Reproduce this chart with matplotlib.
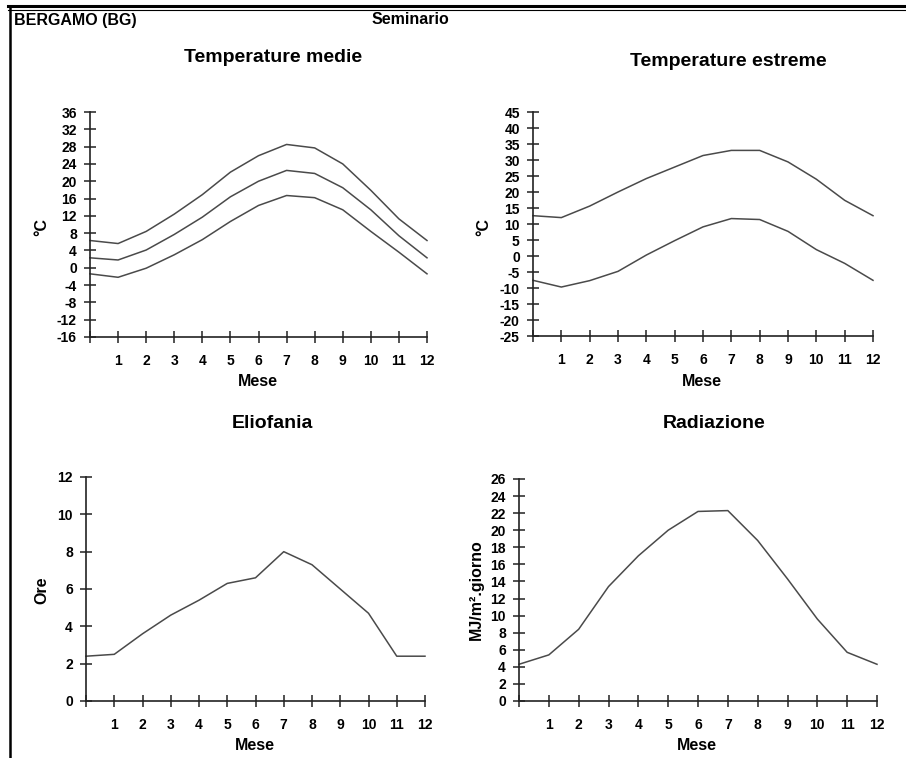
import matplotlib
matplotlib.use("Agg")
import matplotlib.pyplot as plt
from matplotlib.lines import Line2D

plt.rcParams['font.family'] = ['Liberation Sans', 'DejaVu Sans']
plt.rcParams['font.weight'] = 'bold'
plt.rcParams['axes.unicode_minus'] = False

W, H = 906, 758

# monthly values, month 1..12 (point at 0 repeats December)
mesi = list(range(0, 13))
mesi_lab = [''] + [str(m) for m in range(1, 13)]

t_max = [5.6, 8.4, 12.4, 16.9, 22.1, 25.9, 28.5, 27.7, 24.0, 17.9, 11.3, 6.3]
t_med = [1.8, 4.1, 7.7, 11.7, 16.4, 20.0, 22.5, 21.8, 18.5, 13.4, 7.4, 2.3]
t_min = [-2.2, -0.1, 3.0, 6.5, 10.7, 14.4, 16.7, 16.2, 13.4, 8.4, 3.6, -1.4]

t_est_max = [12.0, 15.6, 20.0, 24.2, 27.8, 31.4, 33.0, 33.0, 29.4, 24.0, 17.4, 12.6]
t_est_min = [-9.7, -7.7, -4.8, 0.3, 4.8, 9.1, 11.7, 11.4, 7.7, 2.0, -2.3, -7.6]

eliofania = [2.5, 3.6, 4.6, 5.4, 6.3, 6.6, 8.0, 7.3, 6.0, 4.7, 2.4, 2.4]
radiazione = [5.4, 8.4, 13.4, 17.0, 20.0, 22.2, 22.3, 18.8, 14.3, 9.6, 5.7, 4.3]


def wrap(v):
    return [v[-1]] + list(v)


def px(x0, y0, x1, y1):
    # pixel box -> figure fraction rect
    return [x0 / W, 1 - y1 / H, (x1 - x0) / W, (y1 - y0) / H]


def fx(x):
    return x / W


def fy(y):
    return 1 - y / H


def setup(ax, ylo, yhi, step):
    ax.set_xlim(0, 12)
    ax.set_ylim(ylo, yhi)
    ax.set_xticks(mesi)
    ax.set_xticklabels(mesi_lab)
    ax.set_yticks(list(range(ylo, yhi + 1, step)))
    for s in ['top', 'right']:
        ax.spines[s].set_visible(False)
    for s in ['left', 'bottom']:
        ax.spines[s].set_color('#222222')
        ax.spines[s].set_linewidth(1.2)
    ax.tick_params(axis='x', direction='inout', length=9, width=1.1, color='#222222',
                   labelsize=10, pad=8)
    ax.tick_params(axis='y', direction='inout', length=9, width=1.1, color='#222222',
                   labelsize=10, pad=5)
    for lab in ax.get_xticklabels() + ax.get_yticklabels():
        lab.set_fontweight('bold')
    ax.patch.set_visible(False)


fig = plt.figure(figsize=(W / 100, H / 100), dpi=100)

lc = '#4a4a4a'

ax1 = fig.add_axes(px(90, 112, 427, 337))
ax1.plot(mesi, wrap(t_max), color=lc, lw=1.1, clip_on=False)
ax1.plot(mesi, wrap(t_med), color=lc, lw=1.1, clip_on=False)
ax1.plot(mesi, wrap(t_min), color=lc, lw=1.1, clip_on=False)
setup(ax1, -16, 36, 4)

ax2 = fig.add_axes(px(533, 112, 873, 336))
ax2.plot(mesi, wrap(t_est_max), color=lc, lw=1.1, clip_on=False)
ax2.plot(mesi, wrap(t_est_min), color=lc, lw=1.1, clip_on=False)
setup(ax2, -25, 45, 5)

ax3 = fig.add_axes(px(86, 477, 425, 701))
ax3.plot(mesi, wrap(eliofania), color=lc, lw=1.1, clip_on=False)
setup(ax3, 0, 12, 2)

ax4 = fig.add_axes(px(519, 479, 877, 701))
ax4.plot(mesi, wrap(radiazione), color=lc, lw=1.1, clip_on=False)
setup(ax4, 0, 26, 2)

# titles and axis labels
tk = dict(fontweight='bold', ha='center', va='center')
fig.text(fx(273), fy(58), 'Temperature medie', fontsize=14, **tk)
fig.text(fx(728), fy(62), 'Temperature estreme', fontsize=14, **tk)
fig.text(fx(272), fy(423), 'Eliofania', fontsize=14, **tk)
fig.text(fx(714), fy(423), 'Radiazione', fontsize=14, **tk)

fig.text(fx(258), fy(382), 'Mese', fontsize=11.5, **tk)
fig.text(fx(702), fy(381), 'Mese', fontsize=11.5, **tk)
fig.text(fx(255), fy(745), 'Mese', fontsize=11.5, **tk)
fig.text(fx(697), fy(746), 'Mese', fontsize=11.5, **tk)

fig.text(fx(42), fy(227), '°C', fontsize=11.5, rotation=90, **tk)
fig.text(fx(484), fy(227), '°C', fontsize=11.5, rotation=90, **tk)
fig.text(fx(42), fy(590), 'Ore', fontsize=11.5, rotation=90, **tk)
fig.text(fx(476), fy(590), 'MJ/m².giorno', fontsize=11.5, rotation=90, **tk)

# header
fig.text(fx(14), fy(20), 'BERGAMO (BG)', fontsize=11.5, fontweight='bold', ha='left', va='center')
fig.text(fx(372), fy(20), 'Seminario', fontsize=11.5, fontweight='bold', ha='left', va='center')

# page frame
fig.add_artist(Line2D([fx(8), 1], [fy(6), fy(6)], color='black', lw=2.2))
fig.add_artist(Line2D([fx(8), 1], [fy(9.5), fy(9.5)], color='black', lw=0.8))
fig.add_artist(Line2D([fx(10), fx(10)], [fy(6), 0], color='black', lw=1.8))

fig.savefig('out.png', dpi=100)
